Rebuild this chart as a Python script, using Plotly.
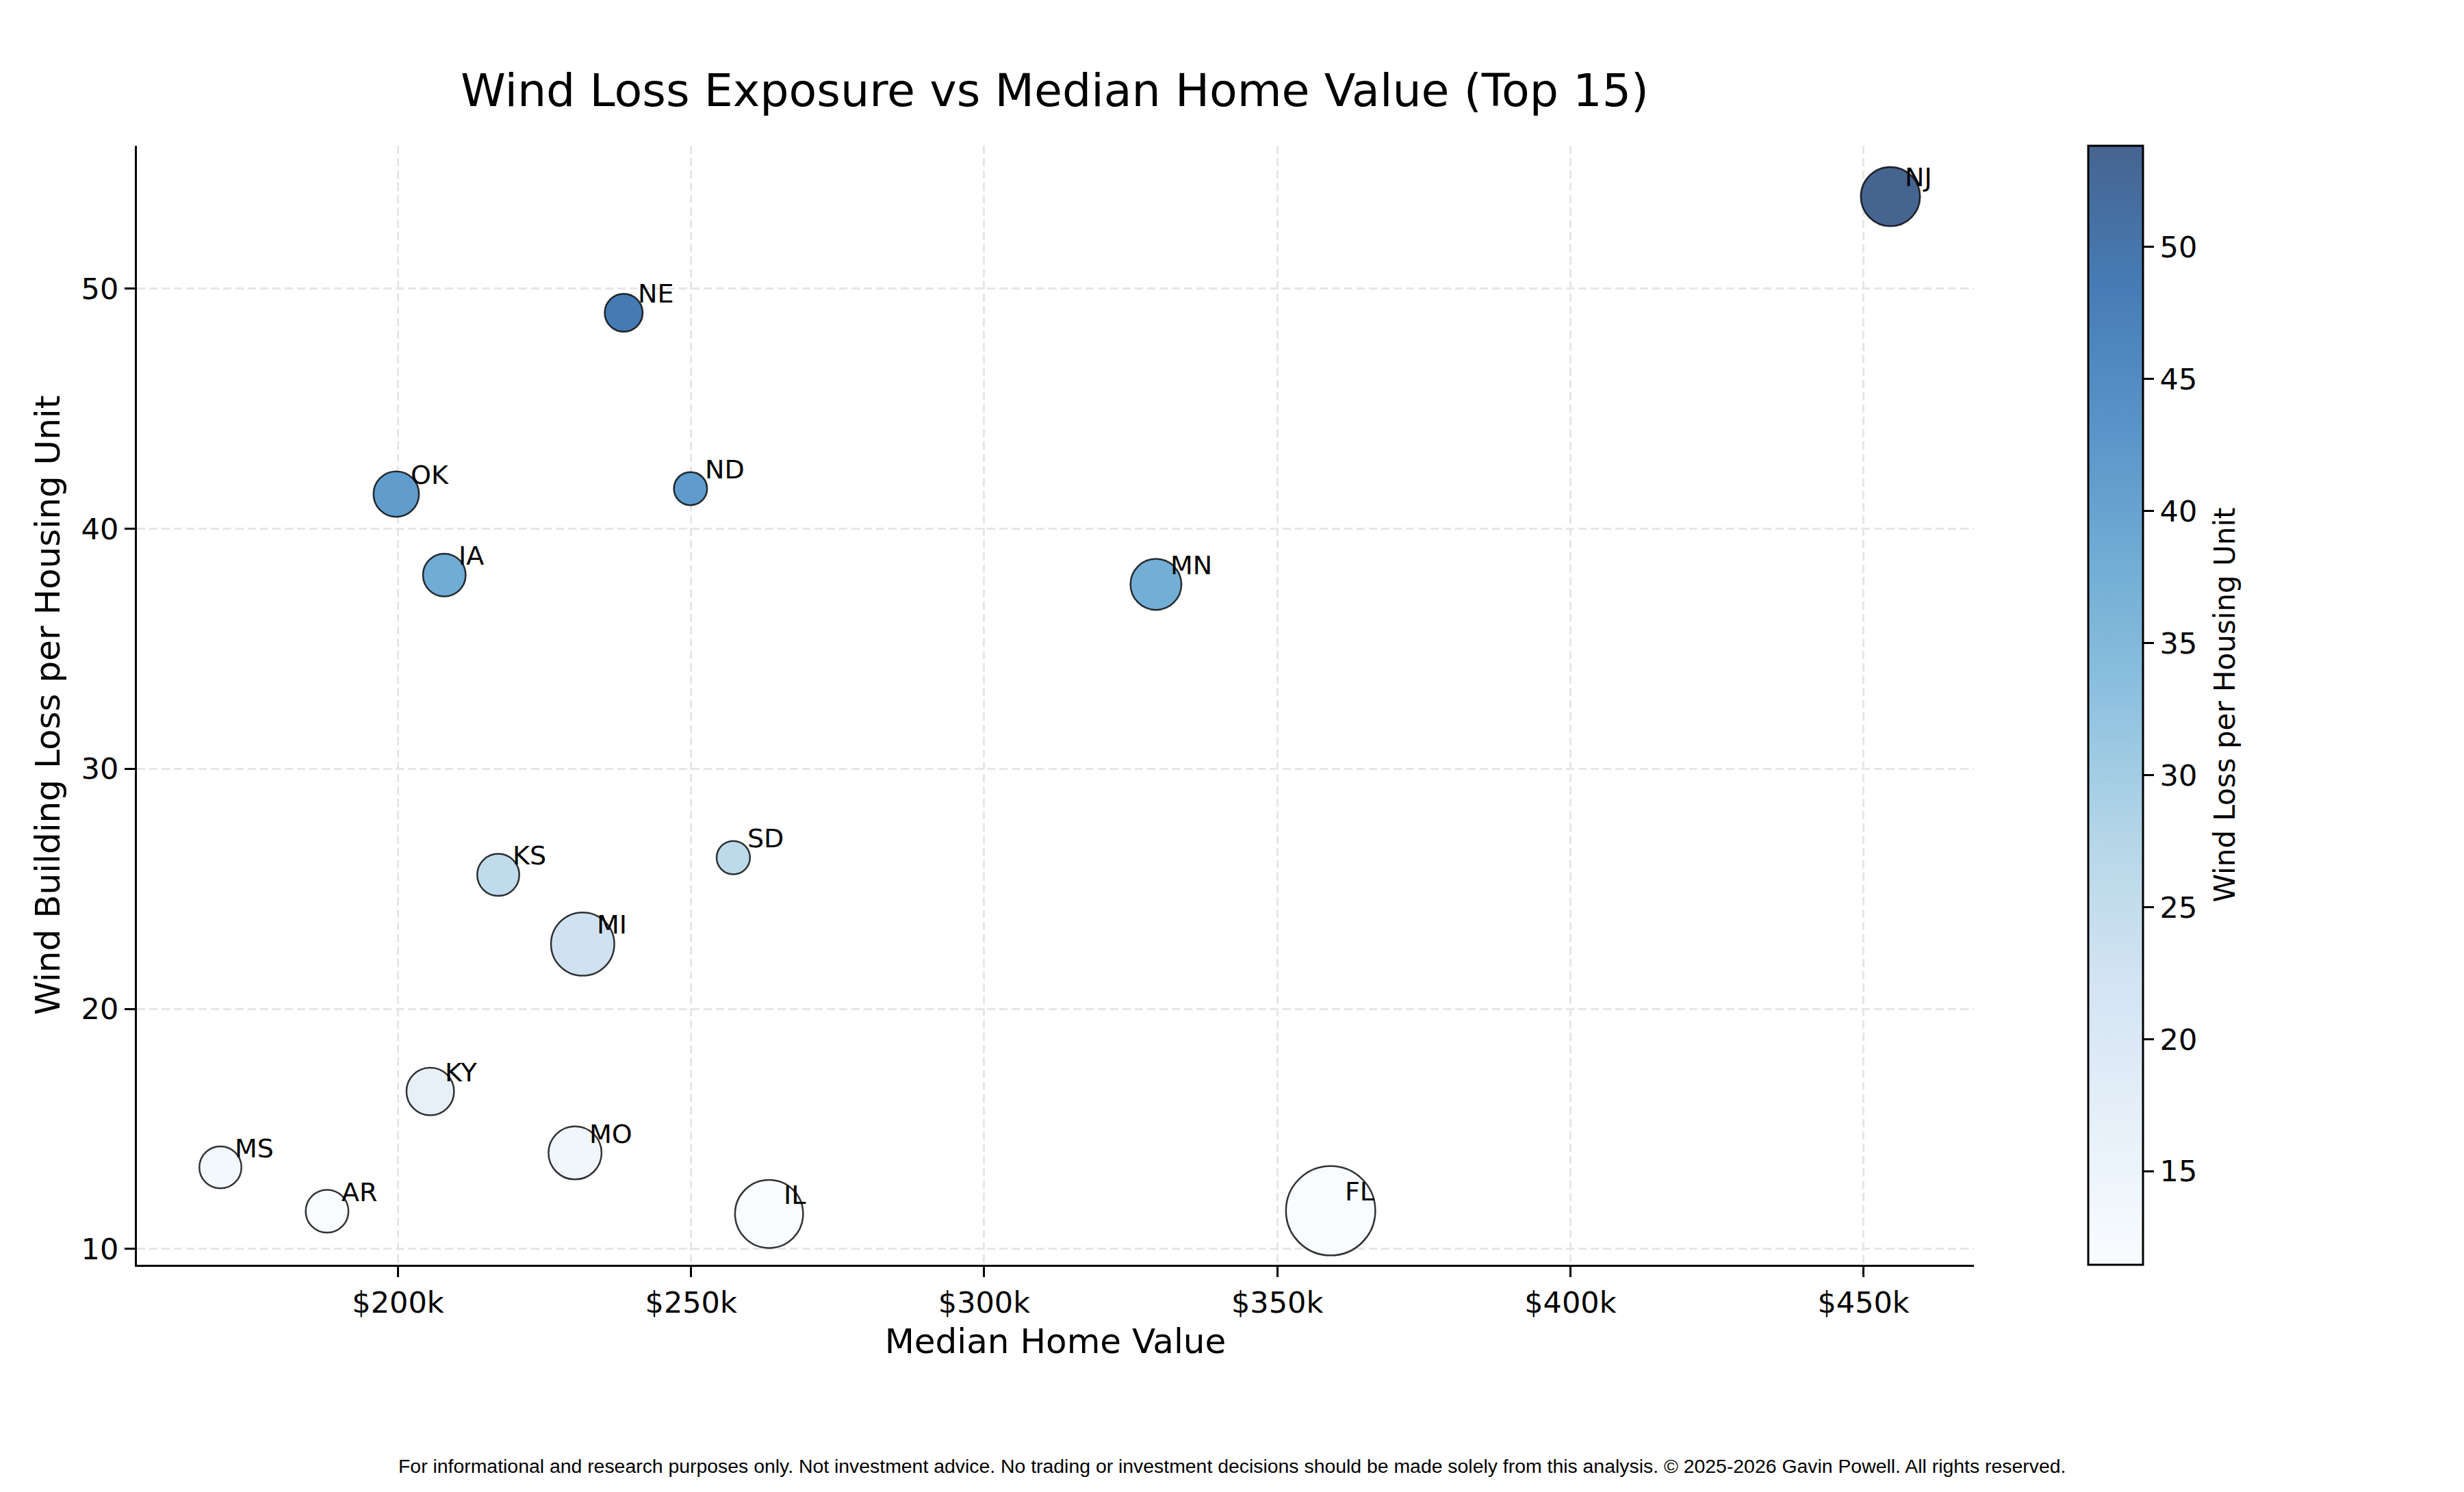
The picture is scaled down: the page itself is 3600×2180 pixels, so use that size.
import plotly.graph_objects as go
import numpy as np

# ---- data ----
states = ["NJ", "NE", "OK", "ND", "IA", "MN", "SD", "KS", "MI", "KY", "MO", "MS", "AR", "IL", "FL"]
median_home_value = [454600, 238500, 199700, 249900, 207900, 329300, 257200, 217100,
                     231500, 205500, 230200, 169700, 187900, 263300, 359100]
wind_loss_per_unit = [53.83, 48.99, 41.44, 41.67, 38.07, 37.68, 26.30, 25.58,
                      22.70, 16.56, 14.00, 13.40, 11.57, 11.46, 11.59]
housing_units_m = [3.74, 0.86, 1.74, 0.38, 1.40, 2.48, 0.40, 1.32,
                   4.43, 2.01, 2.78, 1.32, 1.40, 5.30, 9.90]
x_tick_vals = [200000, 250000, 300000, 350000, 400000, 450000]
x_tick_text = ["$200k", "$250k", "$300k", "$350k", "$400k", "$450k"]
y_tick_vals = [10, 20, 30, 40, 50]
cbar_tick_vals = [15, 20, 25, 30, 35, 40, 45, 50]

title_text = "Wind Loss Exposure vs Median Home Value (Top 15)"
x_title = "Median Home Value"
y_title = "Wind Building Loss per Housing Unit"
cbar_title = "Wind Loss per Housing Unit"
footer = ("For informational and research purposes only. Not investment advice. "
          "No trading or investment decisions should be made solely from this analysis. "
          "\u00a9 2025-2026 Gavin Powell. All rights reserved.")

# ---- styling ----
W, H = 3600, 2180
OFF = 8  # page body margin
ML, MR, MT, MB = 200 - OFF, 716 + OFF, 213 - OFF, 332 + OFF
FONT = "DejaVu Sans"

blues = ["#f7fbff", "#deebf7", "#c6dbef", "#9ecae1", "#6baed6",
         "#4292c6", "#2171b5", "#08519c", "#08306b"]
ALPHA = 0.75


def blend(hx, a=ALPHA):
    r, g, b = int(hx[1:3], 16), int(hx[3:5], 16), int(hx[5:7], 16)
    f = lambda c: round(a * c + (1 - a) * 255)
    return f"rgb({f(r)},{f(g)},{f(b)})"


colorscale = [[i / (len(blues) - 1), blend(c)] for i, c in enumerate(blues)]

# marker outer diameter grows with housing units (area scale)
EDGE_W = 2.5
sizes = [float(np.sqrt(2000 + 1585 * u)) - EDGE_W for u in housing_units_m]

xr = max(median_home_value) - min(median_home_value)
yr = max(wind_loss_per_unit) - min(wind_loss_per_unit)
x_range = [min(median_home_value) - 0.05 * xr, max(median_home_value) + 0.05 * xr]
y_range = [min(wind_loss_per_unit) - 0.05 * yr, max(wind_loss_per_unit) + 0.05 * yr]

plot_w = W - ML - MR
plot_h = H - MT - MB


def px_x(sx):  # screenshot x -> paper
    return (sx - OFF - ML) / plot_w


def px_y(sy):  # screenshot y -> paper
    return (H - MB - (sy - OFF)) / plot_h


fig = go.Figure()
fig.add_trace(go.Scatter(
    x=median_home_value, y=wind_loss_per_unit, mode="markers",
    text=states, hoverinfo="text+x+y",
    marker=dict(
        size=sizes, sizemode="diameter", opacity=1,
        color=wind_loss_per_unit, colorscale=colorscale,
        cmin=min(wind_loss_per_unit), cmax=max(wind_loss_per_unit),
        line=dict(color="rgba(0,0,0,0.8)", width=EDGE_W),
        colorbar=dict(
            x=px_x(3051), xanchor="left", xpad=0,
            y=0.5, yanchor="middle", ypad=0,
            len=1, lenmode="fraction", thickness=80,
            outlinewidth=3, outlinecolor="black",
            ticks="outside", ticklen=15, tickwidth=3, tickcolor="black",
            tickvals=cbar_tick_vals,
            tickfont=dict(family=FONT, size=43, color="black"),
        ),
    ),
    showlegend=False,
))

annotations = []
for s, xv, yv in zip(states, median_home_value, wind_loss_per_unit):
    annotations.append(dict(
        x=xv, y=yv, xref="x", yref="y", text=s, showarrow=False,
        xanchor="left", yanchor="bottom", xshift=19, yshift=4,
        font=dict(family=FONT, size=38, color="black"),
    ))

annotations.append(dict(
    x=px_x(3250), y=0.5, xref="paper", yref="paper", text=cbar_title,
    showarrow=False, textangle=-90, xanchor="center", yanchor="middle",
    font=dict(family=FONT, size=42, color="black"),
))

annotations.append(dict(
    x=px_x(1800), y=px_y(2142),
    xref="paper", yref="paper", text=footer, showarrow=False,
    xanchor="center", yanchor="middle",
    font=dict(family="Liberation Sans", size=28.4, color="black"),
))

axis_common = dict(
    showline=True, linecolor="black", linewidth=3.3, mirror=False,
    ticks="outside", ticklen=15, tickwidth=3.3, tickcolor="black",
    showgrid=True, gridcolor="#e6e6e6", gridwidth=3, griddash="12px,6px",
    zeroline=False,
    tickfont=dict(family=FONT, size=43, color="black"),
)

fig.update_layout(
    width=W, height=H,
    margin=dict(l=ML, r=MR, t=MT, b=MB, autoexpand=False),
    paper_bgcolor="white", plot_bgcolor="white",
    title=dict(text=title_text, x=(1541 - OFF) / W, xanchor="center", xref="container",
               y=1 - (132 - OFF) / H, yanchor="middle", yref="container",
               font=dict(family=FONT, size=66.6, color="black")),
    xaxis=dict(range=x_range, tickvals=x_tick_vals, ticktext=x_tick_text,
               title=dict(text=x_title, standoff=16,
                          font=dict(family=FONT, size=50, color="black")),
               **axis_common),
    yaxis=dict(range=y_range, tickvals=y_tick_vals,
               title=dict(text=y_title, standoff=16,
                          font=dict(family=FONT, size=50, color="black")),
               **axis_common),
    annotations=annotations,
)

fig.write_html("out.html")
